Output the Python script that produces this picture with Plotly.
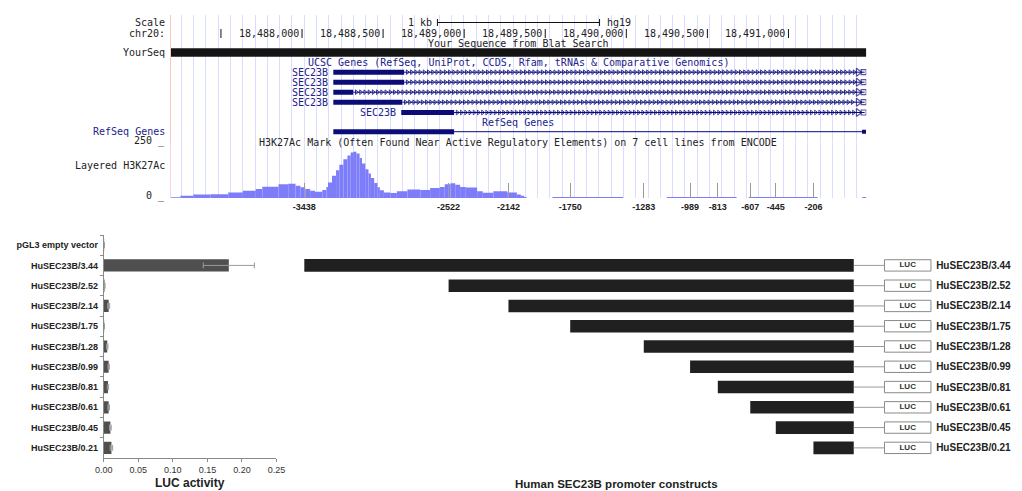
import numpy as np
import plotly.graph_objects as go

W, H = 1022, 491

# ---------------- genome browser data (hg19, chr20) ----------------
window_start = 18487190
window_end = 18491480
chr_ticks = [18487500, 18488000, 18488500, 18489000, 18489500, 18490000, 18490500, 18491000]
chr_tick_labels = ["", "18,488,000", "18,488,500", "18,489,000", "18,489,500",
                   "18,490,000", "18,490,500", "18,491,000"]
scale_bar_start = 18488835
scale_bar_length = 1000

yourseq_start = 18487190
yourseq_end = 18491480

ucsc_gene_names = ["SEC23B", "SEC23B", "SEC23B", "SEC23B", "SEC23B"]
ucsc_gene_start = [18488193, 18488193, 18488193, 18488193, 18488612]
ucsc_gene_thick_end = [18488630, 18488630, 18488316, 18488618, 18488938]
ucsc_gene_end = 18491470

refseq_start = 18488193
refseq_thick_end = 18488938
refseq_end = 18491470

h3k27ac_start = [18487190, 18487250, 18487330, 18487435, 18487545, 18487635, 18487715,
                 18487755, 18487855, 18487915, 18487960, 18487990, 18488020, 18488050,
                 18488080, 18488125, 18488150, 18488160, 18488185, 18488210, 18488230,
                 18488255, 18488280, 18488300, 18488315, 18488335, 18488355, 18488370,
                 18488390, 18488410, 18488425, 18488445, 18488465, 18488480, 18488505,
                 18488545, 18488585, 18488650, 18488730, 18488790, 18488850, 18488880,
                 18488915, 18488945, 18488975, 18489010, 18489080, 18489115, 18489180,
                 18489265, 18489325, 18489350, 18489370,
                 18489545, 18490250, 18490755, 18491455]
h3k27ac_value = [3, 10, 16, 17, 25, 33, 40, 51, 62, 64, 55, 48, 40, 33, 28, 36, 50, 70,
                 100, 125, 150, 175, 192, 205, 208, 200, 180, 155, 130, 110, 90, 68, 48,
                 35, 25, 23, 30, 38, 36, 45, 50, 62, 66, 60, 50, 47, 30, 24, 30, 25, 16,
                 10, 5,
                 4, 4, 4, 4]
h3k27ac_end = h3k27ac_start[1:53] + [18489385, 18489980, 18490680, 18491180, 18491480]

# ---------------- luciferase reporter data ----------------
categories = ["pGL3 empty vector", "HuSEC23B/3.44", "HuSEC23B/2.52", "HuSEC23B/2.14",
              "HuSEC23B/1.75", "HuSEC23B/1.28", "HuSEC23B/0.99", "HuSEC23B/0.81",
              "HuSEC23B/0.61", "HuSEC23B/0.45", "HuSEC23B/0.21"]
luc_activity = [0.0005, 0.181, 0.001, 0.007, 0.0005, 0.005, 0.007, 0.006, 0.007, 0.0095, 0.011]
luc_error = [0.0003, 0.037, 0.0008, 0.0015, 0.0003, 0.001, 0.001, 0.001, 0.0012, 0.0012, 0.0018]
constructs = categories[1:]
construct_start = [-3438, -2522, -2142, -1750, -1283, -989, -813, -607, -445, -206]
construct_end = 50

# ---------------- styles / layout constants ----------------
MONO = "DejaVu Sans Mono"
ARIAL = "Liberation Sans, Arial, sans-serif"
GENE_BLUE = "#0c0c78"
TEXT_BLUE = "#22228c"
TXT = "#222222"
ROW_SCALE, ROW_CHR, ROW_BLAT, ROW_YOURSEQ, ROW_UCSC = 22.5, 33.5, 43, 52.4, 62.5
GENE_ROWS = [72.2, 82.2, 92.2, 102.2, 112.5]
ROW_REFSEQ_T, ROW_REFSEQ = 122.7, 131.7
LUC_X0, LUC_X1 = 245, 540
# the page places the graph 8 px in from the left and 1006 px wide; map target pixels onto it
X_OFF, X_W = 8, 1006

def px(v, axis="x"):
    return (v - X_OFF) / X_W if axis == "x" else 1 - v / H

fig = go.Figure()

# --- YourSeq
fig.add_trace(go.Bar(y=[ROW_YOURSEQ], x=[yourseq_end - yourseq_start], base=[yourseq_start],
                     orientation="h", width=8.5, marker=dict(color="#141414", line=dict(width=0)),
                     xaxis="x", yaxis="y", hoverinfo="skip"))

# --- UCSC genes
for i, row in enumerate(GENE_ROWS):
    s, te = ucsc_gene_start[i], ucsc_gene_thick_end[i]
    fig.add_trace(go.Scatter(x=[te, ucsc_gene_end], y=[row, row], mode="lines",
                             line=dict(color=GENE_BLUE, width=1), xaxis="x", yaxis="y",
                             hoverinfo="skip"))
    chev = np.arange(te + 20, ucsc_gene_end - 60, 26)
    fig.add_trace(go.Scatter(x=chev, y=[row] * len(chev), mode="markers",
                             marker=dict(symbol="triangle-right-open", size=4, color=GENE_BLUE,
                                         line=dict(width=0.8, color=GENE_BLUE)),
                             xaxis="x", yaxis="y", hoverinfo="skip"))
    fig.add_trace(go.Scatter(x=[ucsc_gene_end - 40, ucsc_gene_end - 6], y=[row, row], mode="markers",
                             marker=dict(symbol=["triangle-right-open", "square-open"], size=[7, 5],
                                         color=GENE_BLUE, line=dict(width=1.2, color=GENE_BLUE)),
                             xaxis="x", yaxis="y", hoverinfo="skip"))
fig.add_trace(go.Bar(y=GENE_ROWS, x=[e - s for s, e in zip(ucsc_gene_start, ucsc_gene_thick_end)],
                     base=ucsc_gene_start, orientation="h", width=5,
                     marker=dict(color=GENE_BLUE, line=dict(width=0)),
                     xaxis="x", yaxis="y", hoverinfo="skip"))

# --- RefSeq gene
fig.add_trace(go.Scatter(x=[refseq_thick_end, refseq_end], y=[ROW_REFSEQ, ROW_REFSEQ], mode="lines",
                         line=dict(color=GENE_BLUE, width=1), xaxis="x", yaxis="y", hoverinfo="skip"))
fig.add_trace(go.Scatter(x=[refseq_end - 4], y=[ROW_REFSEQ], mode="markers",
                         marker=dict(symbol="square", size=4, color=GENE_BLUE),
                         xaxis="x", yaxis="y", hoverinfo="skip"))
fig.add_trace(go.Bar(y=[ROW_REFSEQ], x=[refseq_thick_end - refseq_start], base=[refseq_start],
                     orientation="h", width=5, marker=dict(color=GENE_BLUE, line=dict(width=0)),
                     xaxis="x", yaxis="y", hoverinfo="skip"))

# --- scale bar
sb0, sb1 = scale_bar_start, scale_bar_start + scale_bar_length
fig.add_trace(go.Scatter(x=[sb0, sb1, None, sb0, sb0, None, sb1, sb1],
                         y=[ROW_SCALE, ROW_SCALE, None, ROW_SCALE - 3.5, ROW_SCALE + 3.5, None,
                            ROW_SCALE - 3.5, ROW_SCALE + 3.5],
                         mode="lines", line=dict(color="#111", width=1), xaxis="x", yaxis="y",
                         hoverinfo="skip"))
# --- chromosome position ticks
tx, ty = [], []
for t in chr_ticks:
    tx += [t, t, None]
    ty += [ROW_CHR - 4.5, ROW_CHR + 4.5, None]
fig.add_trace(go.Scatter(x=tx, y=ty, mode="lines", line=dict(color="#111", width=1),
                         xaxis="x", yaxis="y", hoverinfo="skip"))

# --- H3K27Ac signal
fig.add_trace(go.Bar(x=h3k27ac_start, y=h3k27ac_value,
                     width=[e - s for s, e in zip(h3k27ac_start, h3k27ac_end)], offset=0,
                     marker=dict(color="#7d7dfa", line=dict(width=0)),
                     xaxis="x", yaxis="y2", hoverinfo="skip"))

# --- LUC activity bars
fig.add_trace(go.Bar(y=categories, x=luc_activity, orientation="h",
                     marker=dict(color="#4f4f4f", line=dict(width=0)),
                     error_x=dict(type="data", array=luc_error, color="#9a9a9a", thickness=1, width=3),
                     xaxis="x2", yaxis="y3", width=0.6, hoverinfo="skip"))

# --- promoter constructs
fig.add_trace(go.Scatter(x=[None] * len(categories), y=categories, mode="markers",
                         xaxis="x3", yaxis="y4", hoverinfo="skip"))
cx, cy = [], []
for c in constructs:
    cx += [construct_end, LUC_X0, None]
    cy += [c, c, None]
fig.add_trace(go.Scatter(x=cx, y=cy, mode="lines", line=dict(color="#9a9a9a", width=1),
                         xaxis="x3", yaxis="y4", hoverinfo="skip"))
fig.add_trace(go.Bar(y=constructs, x=[construct_end - s for s in construct_start], base=construct_start,
                     orientation="h", width=0.62, marker=dict(color="#202020", line=dict(width=0)),
                     xaxis="x3", yaxis="y4", hoverinfo="skip"))
fig.add_trace(go.Bar(y=constructs, x=[LUC_X1 - LUC_X0] * len(constructs), base=LUC_X0,
                     orientation="h", width=0.56,
                     marker=dict(color="white", line=dict(color="#8a8a8a", width=1)),
                     xaxis="x3", yaxis="y4", hoverinfo="skip"))
fig.add_trace(go.Scatter(x=[(LUC_X0 + LUC_X1) / 2] * len(constructs), y=constructs, mode="text",
                         text=["LUC"] * len(constructs),
                         textfont=dict(family=ARIAL, size=8, color="#333", weight="bold"),
                         xaxis="x3", yaxis="y4", hoverinfo="skip"))

# ---------------- annotations ----------------
ann = []
def lab(text, x, y, xref="paper", yref="y", xanchor="right", color=TXT, size=10, family=MONO,
        xshift=0, weight="normal"):
    ann.append(dict(text=text, x=x, y=y, xref=xref, yref=yref, xanchor=xanchor, yanchor="middle",
                    showarrow=False, xshift=xshift,
                    font=dict(family=family, size=size, color=color, weight=weight)))

L = px(166)
lab("Scale", L, ROW_SCALE)
lab("chr20:", L, ROW_CHR)
lab("YourSeq", L, ROW_YOURSEQ)
lab("RefSeq Genes", L, ROW_REFSEQ, color=TEXT_BLUE)
lab("250 _", L, 140.5)
lab("Layered H3K27Ac", L, 165.5)
lab("0 _", L, 195.5)
lab("1 kb", sb0, ROW_SCALE, xref="x", xshift=-3)
lab("hg19", sb1, ROW_SCALE, xref="x", xanchor="left", xshift=5)
for t, tl in zip(chr_ticks, chr_tick_labels):
    if tl:
        lab(tl, t, ROW_CHR, xref="x", xshift=-1)
lab("Your Sequence from Blat Search", 0.5, ROW_BLAT, xref="x domain", xanchor="center")
lab("UCSC Genes (RefSeq, UniProt, CCDS, Rfam, tRNAs & Comparative Genomics)", 0.5, ROW_UCSC,
    xref="x domain", xanchor="center", color=TEXT_BLUE)
for name, s, row in zip(ucsc_gene_names, ucsc_gene_start, GENE_ROWS):
    lab(name, s, row, xref="x", xshift=-3, color=TEXT_BLUE)
lab("RefSeq Genes", 0.5, ROW_REFSEQ_T, xref="x domain", xanchor="center", color=TEXT_BLUE)
lab("H3K27Ac Mark (Often Found Near Active Regulatory Elements) on 7 cell lines from ENCODE",
    0.5, 142.3, xref="x domain", xanchor="center")
lab("LUC activity", px(189.5), px(483, "y"), yref="paper", xanchor="center", family=ARIAL,
    size=12, weight="bold")
lab("Human SEC23B promoter constructs", px(617), px(484, "y"), yref="paper", xanchor="center",
    family=ARIAL, size=11.5, weight="bold")

# ---------------- layout ----------------
G_TOP, G_BOT = 15, 198
B_TOP, B_BOT = 235, 458
fig.update_layout(
    width=W, height=H, autosize=False, margin=dict(l=0, r=0, t=0, b=0),
    paper_bgcolor="white", plot_bgcolor="white", showlegend=False, barmode="overlay",
    annotations=ann,
    xaxis=dict(domain=[px(170), px(867)], range=[window_start, window_end], anchor="y",
               showgrid=True, gridcolor="#dcdcff", gridwidth=1, tick0=18487256, dtick=75.75,
               showticklabels=False, ticks="", zeroline=False, showline=False),
    yaxis=dict(domain=[px(G_BOT, "y"), px(G_TOP, "y")], range=[G_BOT, G_TOP], anchor="x",
               showgrid=False, zeroline=False, showticklabels=False, ticks="",
               showline=True, linecolor="#ffc4c4", linewidth=1),
    yaxis2=dict(domain=[px(G_BOT, "y"), px(142.5, "y")], range=[0, 250], anchor="x",
                showgrid=False, zeroline=False, showticklabels=False, ticks="", showline=False),
    xaxis2=dict(domain=[px(103), px(276)], range=[0, 0.25], anchor="y3",
                tickvals=[0, 0.05, 0.10, 0.15, 0.20, 0.25], tickformat=".2f",
                ticks="outside", ticklen=3, tickcolor="#8a8a8a", showline=True,
                linecolor="#8a8a8a", showgrid=False, zeroline=False,
                tickfont=dict(family=ARIAL, size=9, color="#333")),
    yaxis3=dict(domain=[px(B_BOT, "y"), px(B_TOP, "y")], type="category",
                categoryorder="array", categoryarray=categories, range=[10.5, -0.5],
                anchor="x2", ticks="outside", tickson="boundaries", ticklen=3,
                tickcolor="#8a8a8a", showline=True, linecolor="#8a8a8a", showgrid=False,
                zeroline=False, ticklabelstandoff=3,
                tickfont=dict(family=ARIAL, size=9, color=TXT, weight="bold")),
    xaxis3=dict(domain=[px(300), px(935)], range=[-3462.7, 560.4], anchor="y5",
                tickvals=construct_start, ticktext=[str(v) for v in construct_start],
                ticks="inside", ticklen=15, tickcolor="#9a9a9a", showline=False,
                showgrid=False, zeroline=False, ticklabelstandoff=2,
                tickfont=dict(family=ARIAL, size=9, color=TXT, weight="bold")),
    yaxis5=dict(domain=[px(214, "y"), px(199, "y")], range=[0, 1], anchor="x3",
                showgrid=False, zeroline=False, showticklabels=False, ticks="", showline=False),
    yaxis4=dict(domain=[px(B_BOT, "y"), px(B_TOP, "y")], type="category",
                categoryorder="array", categoryarray=categories, range=[10.5, -0.5],
                anchor="free", position=px(936), side="right", tickvals=constructs,
                ticks="", showline=False, showgrid=False, zeroline=False,
                tickfont=dict(family=ARIAL, size=10, color=TXT, weight="bold")),
    xaxis4=dict(domain=[px(300), px(935)], range=[-3462.7, 560.4], anchor="y4",
                showline=True, linecolor="#9a9a9a", ticks="", showticklabels=False,
                showgrid=False, zeroline=False),
)

fig.write_html("out.html",
               config={"responsive": False, "displayModeBar": False, "staticPlot": True},
               post_script="document.body.style.margin='0';document.body.style.overflow='hidden';")
